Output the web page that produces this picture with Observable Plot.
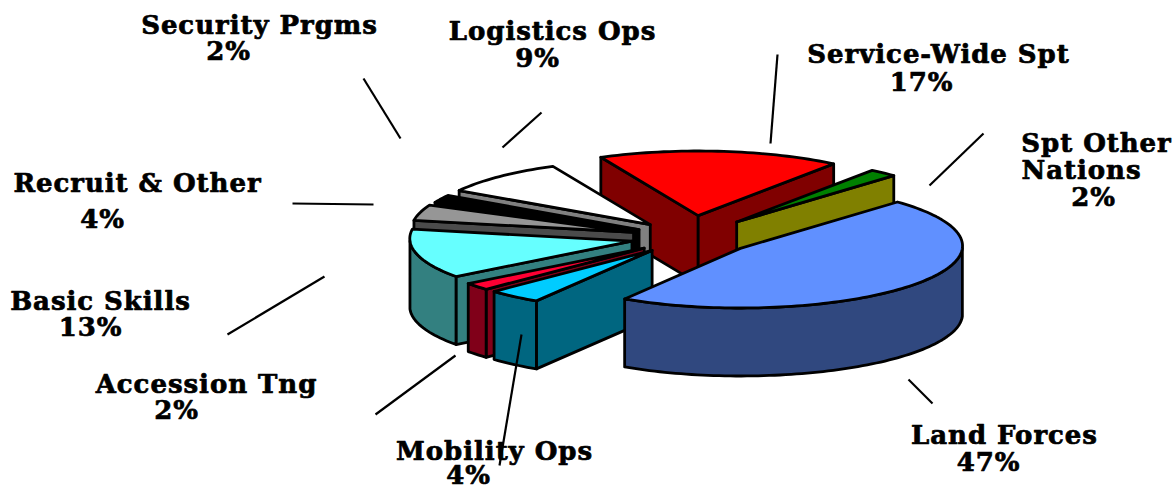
<!DOCTYPE html>
<html>
<head>
<meta charset="utf-8">
<script src="https://cdn.jsdelivr.net/npm/d3@7"></script>
<script src="https://cdn.jsdelivr.net/npm/@observablehq/plot@0.6"></script>
<style>html,body{margin:0;padding:0;background:#fff}svg{display:block}</style>
</head>
<body>
<div id="chart"></div>
<script>
// ---- data
const categories = ["Service-Wide Spt","Spt Other Nations","Land Forces","Mobility Ops","Accession Tng","Basic Skills","Recruit & Other","Security Prgms","Logistics Ops"];
const values = [17,2,47,4,2,13,4,2,9];
const explode = [0.355,0.325,0.285,0.27,0.27,0.27,0.27,0.265,0.275];
// ---- style
const topColors  = ["#FF0000","#008000","#6090FF","#00CCFF","#FF0033","#66FFFF","#969696","#000000","#FFFFFF"];
const sideColors = ["#800000","#808000","#30487F","#006680","#800019","#338080","#4B4B4B","#000000","#808080"];
const drawOrder = [0,8,7,6,5,4,3,1,2];
// ---- labels
const labelRows = [
  ["Security Prgms",259,25],["2%",228,51],
  ["Logistics Ops",552,31],["9%",537,58],
  ["Service-Wide Spt",938,54],["17%",921,82],
  ["Spt Other",1096,143],["Nations",1081,170],["2%",1093,197],
  ["Land Forces",1004,435],["47%",988,462],
  ["Mobility Ops",494,451],["4%",468,475],
  ["Accession Tng",206,384],["2%",176,410],
  ["Basic Skills",100,301],["13%",90,327],
  ["Recruit & Other",137,183],["4%",102,219]
];
const leaders = [
  [363,78,400,138],[541,112,502,147],[777,54,770,143],[983,133,929,185],
  [908,379,932,403],[521,334,499,465],[455,355,375,414],[324,276,227,334],[292,203,373,204]
];
// ---- layout: pie unit radius on the scales
const W = 1176, H = 491, CX = 690, CY = 237, RX = 222, RY = 62, START = -25, DEPTH = 68/62, PERSP = -0.04;
const ux = p => (p - CX) / RX, uy = p => (CY - p) / RY;
const rad = d => d * Math.PI / 180;
const total = d3.sum(values);
const cum = d3.cumsum(values);
const slices = values.map((v,i) => {
  const a0 = START + (cum[i]-v)/total*360, a1 = START + cum[i]/total*360, m = rad((a0+a1)/2);
  return {i, a0, a1, ox: explode[i]*Math.sin(m), oy: explode[i]*Math.cos(m)};
});
const rim = (s,a,z=0) => {
  const X = Math.sin(rad(a)), Y = Math.cos(rad(a)), w = 1 + PERSP*Y;
  return [s.ox+X/w, s.oy+Y/w-z];
};
const arc = (a0,a1) => { const n = Math.max(2,Math.ceil((a1-a0)/1.5)); return d3.range(n+1).map(k=>a0+(a1-a0)*k/n); };
const polys = [];
const add = (pts,fill) => { const id = polys.length; const c=[...pts,pts[0]]; c.forEach(p=>polys.push({id,x:p[0],y:p[1],fill})); };
const polyList = [];
const addP = (pts,fill) => polyList.push({pts,fill});
for (const idx of drawOrder) {
  const s = slices[idx], side = sideColors[idx], apex = [s.ox,s.oy], apexB = [s.ox,s.oy-DEPTH];
  if (Math.sin(rad(s.a0)) < 0) addP([apex,rim(s,s.a0),rim(s,s.a0,DEPTH),apexB],side);
  if (Math.sin(rad(s.a1)) > 0) addP([apex,rim(s,s.a1),rim(s,s.a1,DEPTH),apexB],side);
  // the outer wall shows only on the front half of the rim
  const f0 = ((s.a0 % 360) + 360) % 360, f1 = f0 + (s.a1 - s.a0);
  const b0 = Math.max(f0,90), b1 = Math.min(f1,270);
  if (b1 > b0) {
    const as = arc(b0,b1);
    addP([...as.map(a=>rim(s,a)),...as.slice().reverse().map(a=>rim(s,a,DEPTH))],side);
  }
  addP([apex,...arc(s.a0,s.a1).map(a=>rim(s,a))],topColors[idx]);
}
polyList.forEach(p=>add(p.pts,p.fill));

const chart = Plot.plot({
  width: W, height: H, margin: 0,
  style: {letterSpacing:"0.95px"},
  x: {domain:[ux(0),ux(W)], range:[0,W], axis:null},
  y: {domain:[uy(0),uy(H)], range:[0,H], axis:null},
  color: {type:"identity"},
  marks: [
    Plot.line(polys,{x:"x",y:"y",z:"id",fill:"fill",stroke:"#000",strokeWidth:2.8,strokeLinejoin:"round",curve:"linear"}),
    Plot.link(leaders,{x1:d=>ux(d[0]),y1:d=>uy(d[1]),x2:d=>ux(d[2]),y2:d=>uy(d[3]),stroke:"#000",strokeWidth:2.2}),
    Plot.text(labelRows,{x:d=>ux(d[1]),y:d=>uy(d[2]),text:d=>d[0],fontFamily:"'DejaVu Serif'",fontWeight:"bold",fontSize:26,fill:"#000",stroke:"#000",strokeWidth:0.7})
  ]
});
document.getElementById("chart").appendChild(chart);
</script>
</body>
</html>
